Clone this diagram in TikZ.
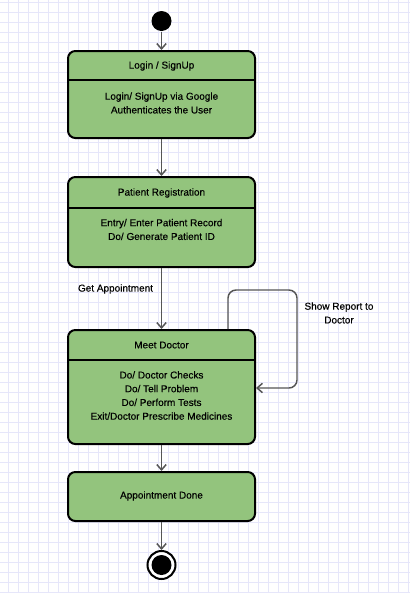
\documentclass[tikz,border=0pt]{standalone}
\usepackage{fontspec}
\newfontfamily\diagfont{Liberation Sans}[FakeBold=0.3]
\usetikzlibrary{arrows.meta}

\tikzset{every picture/.style={line width=0.75pt}}
\definecolor{stategreen}{RGB}{147,196,125}
\definecolor{gridblue}{RGB}{230,230,250}
\definecolor{flowgrey}{RGB}{85,85,85}
\tikzset{
  statebox/.style={draw=black, line width=1.5pt, fill=stategreen, rounded corners=5.5pt,
    minimum width=140.25pt, inner sep=0pt},
  statetext/.style={inner sep=0.75pt, align=center, font=\diagfont\fontsize{7.5}{10.3}\selectfont},
  flow/.style={draw=flowgrey, line width=1.1pt, -{Straight Barb[length=4pt,width=7pt]}},
}

\begin{document}
\begin{tikzpicture}[x=0.75pt,y=0.75pt,yscale=-1,xscale=1]
\useasboundingbox (0,0) rectangle (410,593);

%Background grid
\fill[white] (0,0) rectangle (410,593);
\foreach \gx in {8,18,...,408} {\draw[gridblue, line width=0.6pt] (\gx,0) -- (\gx,593);}
\foreach \gy in {2,12,...,592} {\draw[gridblue, line width=0.6pt] (0,\gy) -- (410,\gy);}

%Shape: Initial state
\node [circle, fill=black, minimum size=15pt, inner sep=0pt] (start) at (161.5,21) {};

%Shape: Rounded Rect - Login
\node [statebox, minimum height=65.25pt] (login) at (161.5,94.5) {};
\draw [line width=1.5pt] (login.west |- 0,80) -- (login.east |- 0,80);
%Shape: Rounded Rect - Registration
\node [statebox, minimum height=67.5pt] (register) at (161.5,222) {};
\draw [line width=1.5pt] (register.west |- 0,208) -- (register.east |- 0,208);
%Shape: Rounded Rect - Meet Doctor
\node [statebox, minimum height=85.5pt] (meet) at (161.5,387) {};
\draw [line width=1.5pt] (meet.west |- 0,360) -- (meet.east |- 0,360);
%Shape: Rounded Rect - Done
\node [statebox, minimum height=36.75pt] (done) at (161.5,496.5) {};

%Shape: Final state
\node [circle, draw=black, fill=white, line width=1.5pt, minimum size=21pt, inner sep=0pt] (finish) at (161.5,565) {};
\node [circle, fill=black, minimum size=15pt, inner sep=0pt] (finishdot) at (finish.center) {};

% Text Node
\node [statetext] (logintitle) at (161.5,66) {Login / SignUp};
% Text Node
\node [statetext] (loginbody) at (161.5,103) {Login/ SignUp via Google\\Authenticates the User};
% Text Node
\node [statetext] (regtitle) at (161.5,193) {Patient Registration};
% Text Node
\node [statetext] (regbody) at (161.5,229.5) {Entry/ Enter Patient Record\\Do/ Generate Patient ID};
% Text Node
\node [statetext] (meettitle) at (161.5,345) {Meet Doctor};
% Text Node
\node [statetext] (meetbody) at (161.5,395.5) {Do/ Doctor Checks\\Do/ Tell Problem\\Do/ Perform Tests\\Exit/Doctor Prescribe Medicines};
% Text Node
\node [statetext] (donetitle) at (161.5,496) {Appointment Done};
% Text Node
\node [statetext] (getlabel) at (115.5,289) {Get Appointment};
% Text Node
\node [statetext] (showlabel) at (339,313) {Show Report to\\Doctor};

%Connectors
\draw [flow] (start) -- (login);
\draw [flow] (login) -- (register);
\draw [flow] (register) -- (meet);
\draw [flow] (meet) -- (done);
\draw [flow] (done) -- (finish);
\coordinate (loopa) at (228,290);
\coordinate (loopb) at (297,290);
\coordinate (loopc) at (297,388);
\draw [flow, rounded corners=6pt] (meet.north -| loopa) -- (loopa) -- (loopb) -- (loopc) -- (meet.east |- loopc);

\end{tikzpicture}
\end{document}
